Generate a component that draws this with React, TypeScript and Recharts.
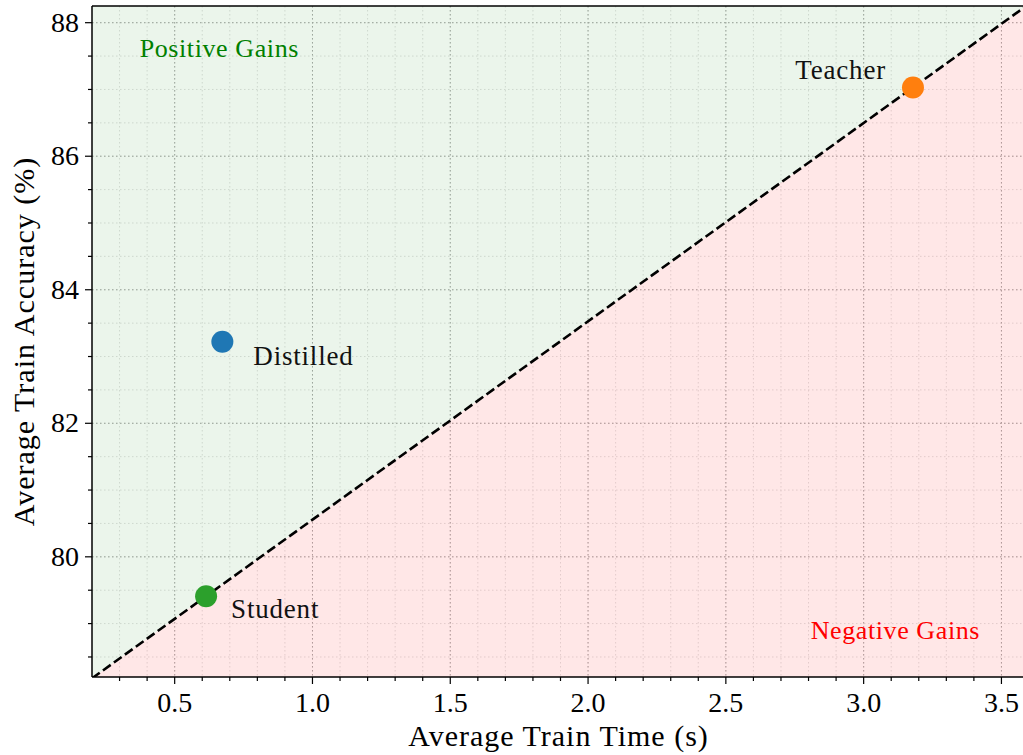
import {
  Area,
  CartesianGrid,
  ComposedChart,
  Label,
  Line,
  ReferenceDot,
  ReferenceLine,
  Scatter,
  XAxis,
  YAxis,
} from 'recharts'

// Models
const models = ['Distilled', 'Student', 'Teacher']
const trainTime = [0.673, 0.614, 3.179]
const trainAcc = [83.22, 79.41, 87.03]

// Parity line (student -> teacher, stretched over the x range)
const diagTime = [0.2, 3.6]
const diagAcc = [78.18, 88.28]

// Axis ranges and ticks
const xDomain = [0.2, 3.6]
const yDomain = [78.2, 88.25]
const xMajor = [0.5, 1.0, 1.5, 2.0, 2.5, 3.0, 3.5]
const xMinor = [
  0.3, 0.4, 0.5, 0.6, 0.7, 0.8, 0.9, 1.0, 1.1, 1.2, 1.3, 1.4, 1.5, 1.6, 1.7,
  1.8, 1.9, 2.0, 2.1, 2.2, 2.3, 2.4, 2.5, 2.6, 2.7, 2.8, 2.9, 3.0, 3.1, 3.2,
  3.3, 3.4, 3.5,
]
const yMajor = [80, 82, 84, 86, 88]
const yMinor = [
  78.5, 79, 79.5, 80, 80.5, 81, 81.5, 82, 82.5, 83, 83.5, 84, 84.5, 85, 85.5,
  86, 86.5, 87, 87.5, 88,
]

// Region captions
const regionText = ['Positive Gains', 'Negative Gains']
const regionTime = [0.662, 3.115]
const regionAcc = [87.49, 78.77]

const FONT = "'Liberation Serif', serif"
const modelColors = ['#1f77b4', '#2ca02c', '#ff7f0e']
const regionColors = ['#008000', '#ff0000']
const labelOffset = {
  Distilled: { dx: 31, dy: 23, anchor: 'start' },
  Student: { dx: 25, dy: 22, anchor: 'start' },
  Teacher: { dx: -27, dy: -8, anchor: 'end' },
}

const points = models.map((name, i) => ({
  name,
  time: trainTime[i],
  acc: trainAcc[i],
}))
const diag = diagTime.map((t, i) => ({ time: t, acc: diagAcc[i] }))

const XTick = ({ x, y, payload }: any) => {
  const v = payload.value
  const major = xMajor.some((m) => Math.abs(m - v) < 1e-6)
  return (
    <g>
      <line x1={x} x2={x} y1={y} y2={y + (major ? 7 : 4)} stroke='#000' strokeWidth={1.2} />
      {major && (
        <text x={x} y={y + 35} textAnchor='middle' fontSize={28} fontFamily={FONT} fill='#000'>
          {v.toFixed(1)}
        </text>
      )}
    </g>
  )
}

const YTick = ({ x, y, payload }: any) => {
  const v = payload.value
  const major = yMajor.includes(v)
  return (
    <g>
      <line x1={x} x2={x - (major ? 7 : 4)} y1={y} y2={y} stroke='#000' strokeWidth={1.2} />
      {major && (
        <text x={x - 13} y={y + 9} textAnchor='end' fontSize={28} fontFamily={FONT} fill='#000'>
          {v}
        </text>
      )}
    </g>
  )
}

const ModelDot = ({ cx, cy, payload }: any) => {
  const i = models.indexOf(payload.name)
  const off = labelOffset[payload.name]
  return (
    <g>
      <circle cx={cx} cy={cy} r={11} fill={modelColors[i]} />
      <text
        x={cx + off.dx}
        y={cy + off.dy}
        textAnchor={off.anchor}
        fontSize={27}
        letterSpacing={0.8}
        fontFamily={FONT}
        fill='#111'
      >
        {payload.name}
      </text>
    </g>
  )
}

export default function App() {
  return (
    <div
      style={{
        position: 'absolute',
        left: 0,
        top: 0,
        width: 1023,
        height: 755,
        overflow: 'hidden',
        background: '#fff',
      }}
    >
      <ComposedChart
        width={1035}
        height={755}
        margin={{ top: 6, right: 6, bottom: 0, left: 0 }}
      >
        <CartesianGrid
          verticalValues={xMinor}
          horizontalValues={yMinor}
          stroke='#dcdcdc'
          strokeDasharray='1.5 2.5'
          strokeWidth={0.9}
        />
        <CartesianGrid
          verticalValues={xMajor}
          horizontalValues={yMajor}
          stroke='#a8a8a8'
          strokeDasharray='1.5 2.5'
          strokeWidth={1}
        />
        <XAxis
          dataKey='time'
          type='number'
          domain={xDomain}
          allowDataOverflow
          ticks={xMinor}
          interval={0}
          tickSize={0}
          tickMargin={0}
          tickLine={false}
          tick={<XTick />}
          height={78}
          axisLine={{ stroke: '#000', strokeWidth: 1.5 }}
        >
          <Label
            content={({ viewBox }: any) => (
              <text
                x={viewBox.x + viewBox.width / 2 - 2}
                y={746}
                textAnchor='middle'
                fontSize={30}
                letterSpacing={1}
                fontFamily={FONT}
                fill='#000'
              >
                Average Train Time (s)
              </text>
            )}
          />
        </XAxis>
        <YAxis
          dataKey='acc'
          type='number'
          domain={yDomain}
          allowDataOverflow
          ticks={yMinor}
          interval={0}
          tickSize={0}
          tickMargin={0}
          tickLine={false}
          tick={<YTick />}
          width={92}
          axisLine={{ stroke: '#000', strokeWidth: 1.5 }}
        >
          <Label
            content={({ viewBox }: any) => (
              <text
                transform={`translate(34, ${viewBox.y + viewBox.height / 2}) rotate(-90)`}
                textAnchor='middle'
                fontSize={30}
                letterSpacing={1}
                fontFamily={FONT}
                fill='#000'
              >
                Average Train Accuracy (%)
              </text>
            )}
          />
        </YAxis>
        <Area
          data={diag}
          dataKey='acc'
          type='linear'
          baseValue={yDomain[1]}
          fill='#008000'
          fillOpacity={0.08}
          stroke='none'
          isAnimationActive={false}
        />
        <Area
          data={diag}
          dataKey='acc'
          type='linear'
          baseValue={yDomain[0]}
          fill='#ff0000'
          fillOpacity={0.095}
          stroke='none'
          isAnimationActive={false}
        />
        <Line
          data={diag}
          dataKey='acc'
          type='linear'
          stroke='#000'
          strokeWidth={2.6}
          strokeDasharray='9.5 4'
          dot={false}
          activeDot={false}
          isAnimationActive={false}
        />
        <Scatter data={points} dataKey='acc' shape={<ModelDot />} isAnimationActive={false} />
        {regionText.map((t, i) => (
          <ReferenceDot
            key={t}
            x={regionTime[i]}
            y={regionAcc[i]}
            shape={({ cx, cy }: any) => (
              <text
                x={cx}
                y={cy}
                textAnchor='middle'
                fontSize={26}
                letterSpacing={0.6}
                fontFamily={FONT}
                fill={regionColors[i]}
              >
                {t}
              </text>
            )}
          />
        ))}
        <ReferenceLine y={yDomain[1]} stroke='#000' strokeWidth={1.5} />
      </ComposedChart>
    </div>
  )
}
